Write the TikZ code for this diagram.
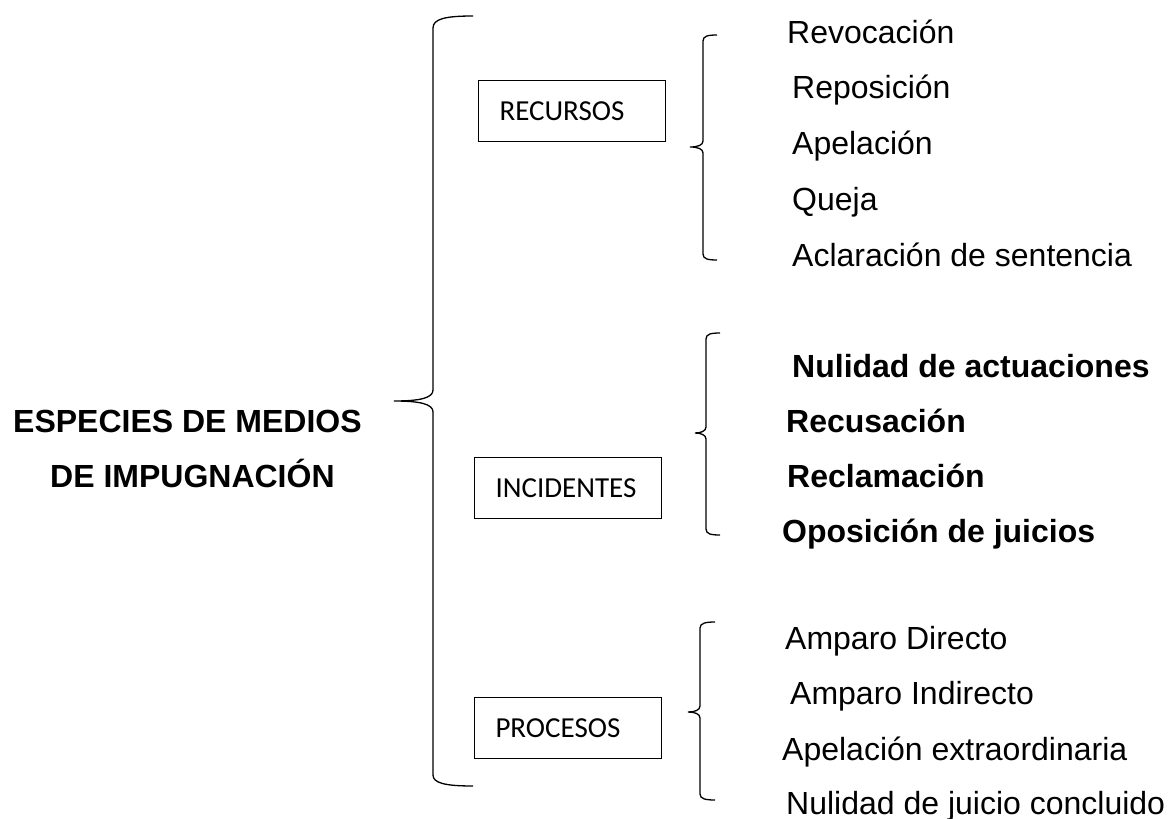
\documentclass[tikz,border=0pt]{standalone}
\usepackage{fontspec}
\setmainfont{Liberation Sans}
\newfontfamily\calibri{Carlito}
\usetikzlibrary{positioning}

\begin{document}
\begin{tikzpicture}[x=1pt,y=-1pt,
    box/.style={draw, line width=1pt, rectangle, minimum height=61pt,
        text width=145pt, inner xsep=21pt, inner ysep=0pt, align=left,
        font=\calibri\fontsize{29}{34}\selectfont},
    item/.style={anchor=base west, inner sep=0pt, font=\fontsize{32}{38}\selectfont},
    bitem/.style={anchor=base west, inner sep=0pt, font=\fontsize{32}{38}\selectfont\bfseries},
    brace/.style={line width=1.3pt}]
    \useasboundingbox (0,0) rectangle (1168,819);

    % title
    \node[bitem] (root1) at (13,432) {ESPECIES DE MEDIOS};
    \node[bitem] (root2) at (50,487) {DE IMPUGNACIÓN};

    % main brace
    \draw[brace] (473,16) .. controls (445,16) and (433,19) .. (433,28)
        -- (433,390) .. controls (433,398) and (420,401) .. (394,401)
        .. controls (420,401) and (433,404) .. (433,412)
        -- (433,775) .. controls (433,783) and (445,786) .. (473,786);

    % boxes
    \node[box, anchor=north west] (rec) at (478,80) {RECURSOS};
    \node[box, anchor=north west] (inc) at (474,457) {INCIDENTES};
    \node[box, anchor=north west] (pro) at (474,697) {PROCESOS};

    % small braces
    \draw[brace] (717,35) .. controls (708,35) and (703,36) .. (703,41)
        -- (703,141) .. controls (703,145) and (698,147) .. (690,147)
        .. controls (698,147) and (703,149) .. (703,153)
        -- (703,254) .. controls (703,259) and (708,260) .. (717,260);
    \draw[brace] (720,333) .. controls (711,333) and (706,334) .. (706,339)
        -- (706,427) .. controls (706,431) and (701,433) .. (695,433)
        .. controls (701,433) and (706,435) .. (706,439)
        -- (706,529) .. controls (706,534) and (711,535) .. (720,535);
    \draw[brace] (715,622) .. controls (706,622) and (700,623) .. (700,628)
        -- (700,706) .. controls (700,710) and (695,712) .. (688,712)
        .. controls (695,712) and (700,714) .. (700,718)
        -- (700,794) .. controls (700,799) and (706,800) .. (715,800);

    % recursos
    \node[item] (r1) at (787,43)  {Revocación};
    \node[item] (r2) at (792,98)  {Reposición};
    \node[item] (r3) at (792,154) {Apelación};
    \node[item] (r4) at (792,210) {Queja};
    \node[item] (r5) at (792,266) {Aclaración de sentencia};

    % incidentes
    \node[bitem] (i1) at (792,377) {Nulidad de actuaciones};
    \node[bitem] (i2) at (786,432) {Recusación};
    \node[bitem] (i3) at (787,487) {Reclamación};
    \node[bitem] (i4) at (782,542) {Oposición de juicios};

    % procesos
    \node[item] (p1) at (785,649) {Amparo Directo};
    \node[item] (p2) at (790,704) {Amparo Indirecto};
    \node[item] (p3) at (782,760) {Apelación extraordinaria};
    \node[item] (p4) at (786,814) {Nulidad de juicio concluido};
\end{tikzpicture}
\end{document}
